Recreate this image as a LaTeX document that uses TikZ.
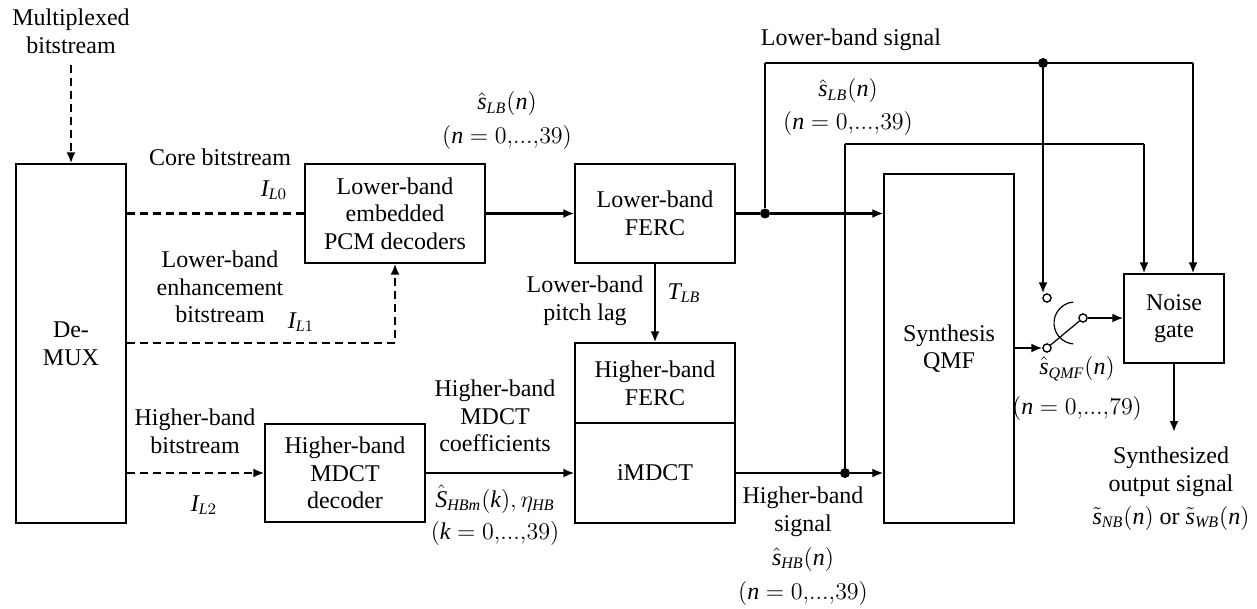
\documentclass[tikz,border=0pt]{standalone}
\usepackage{fontspec}
\setmainfont{Liberation Serif}
\usetikzlibrary{arrows.meta}
\newcommand{\mi}[1]{\mathit{#1}}
\newcommand{\rng}[2]{$(\mi{#1}=0{,}...{,}#2)$}
\begin{document}
\begin{tikzpicture}[x=0.5pt,y=-0.5pt,
  every node/.style={font=\fontsize{12}{13.8}\selectfont},
  box/.style={draw, line width=0.6pt, inner sep=0pt, align=center},
  lbl/.style={inner sep=0pt, align=center},
  conn/.style={line width=1.35pt},
  thinconn/.style={line width=0.8pt},
  arr/.style={conn, -{Latex[length=5.5pt,width=4.5pt]}},
  dashline/.style={line width=1.2pt, dash pattern=on 4pt off 2.5pt},
  dasharr/.style={dashline, -{Latex[length=5.5pt,width=4.5pt]}},
  dot/.style={circle, fill, inner sep=0pt, minimum size=5pt},
  swc/.style={circle, draw, fill=white, inner sep=0pt, minimum size=4pt, line width=0.6pt}]
\useasboundingbox (0,0) rectangle (1257,609);

% boxes
\node[box, minimum width=55pt, minimum height=179.5pt] (demux) at (71,343.5) {De-\\MUX};
\node[box, minimum width=90pt, minimum height=49.5pt] (pcm) at (395,213.5) {Lower-band\\embedded\\PCM decoders};
\node[box, minimum width=80pt, minimum height=49.5pt] (lferc) at (655,213.5) {Lower-band\\FERC};
\node[box, minimum width=80pt, minimum height=49pt] (hmdct) at (345,473) {Higher-band\\MDCT\\decoder};
\node[box, minimum width=80pt, minimum height=40pt] (hferc) at (655,383) {Higher-band\\FERC};
\node[box, minimum width=80pt, minimum height=50pt] (imdct) at (655,473) {iMDCT};
\node[box, minimum width=65pt, minimum height=174.5pt] (qmf) at (949,348.5) {Synthesis\\QMF};
\node[box, minimum width=50pt, minimum height=44.5pt] (noise) at (1174,318.5) {Noise\\gate};

% labels
\node[lbl] (mtxt) at (71,31) {Multiplexed\\bitstream};
\node[lbl] (core) at (220,157) {Core bitstream};
\node[lbl] (il0) at (274,190) {$\mi{I}_{\mi{L}0}$};
\node[lbl] (enh) at (220,287) {Lower-band\\enhancement\\bitstream};
\node[lbl] (il1) at (301,322) {$\mi{I}_{\mi{L}1}$};
\node[lbl] (hbs) at (195,431) {Higher-band\\bitstream};
\node[lbl] (il2) at (204,505) {$\mi{I}_{\mi{L}2}$};
\node[lbl] (slb1) at (507,104) {$\hat{\mi{s}}_{\mi{LB}}(\mi{n})$};
\node[lbl] (n1) at (507,138) {\rng{n}{39}};
\node[lbl] (pitch) at (585,301) {Lower-band\\pitch lag};
\node[lbl] (tlb) at (684,293) {$\mi{T}_{\mi{LB}}$};
\node[lbl] (hcoef) at (495,416) {Higher-band\\MDCT\\coefficients};
\node[lbl] (shbm) at (495,499) {$\hat{\mi{S}}_{\mi{HBm}}(\mi{k}),\eta_{\mi{HB}}$};
\node[lbl] (k1) at (495,533) {\rng{k}{39}};
\node[lbl] (hsig) at (803,512) {Higher-band\\signal};
\node[lbl] (shb) at (803,559) {$\hat{\mi{s}}_{\mi{HB}}(\mi{n})$};
\node[lbl] (n3) at (803,593) {\rng{n}{39}};
\node[lbl] (lsig) at (851,40) {Lower-band signal};
\node[lbl] (slb2) at (848,91) {$\hat{\mi{s}}_{\mi{LB}}(\mi{n})$};
\node[lbl] (n2) at (848,124) {\rng{n}{39}};
\node[lbl] (sqmf) at (1077,369) {$\hat{\mi{s}}_{\mi{QMF}}(\mi{n})$};
\node[lbl] (n4) at (1077,408) {\rng{n}{79}};
\node[lbl] (synth) at (1171,472) {Synthesized\\output signal};
\node[lbl] (sout) at (1171,518) {$\tilde{\mi{s}}_{\mi{NB}}(\mi{n})$ or $\tilde{\mi{s}}_{\mi{WB}}(\mi{n})$};

% coordinates and dots
\coordinate (mstart) at (71,65);
\coordinate (c1) at (395,343);
\node[dot] (d1) at (765,213.5) {};
\coordinate (t1) at (765,63);
\node[dot] (d2) at (1043,63) {};
\coordinate (t2) at (1193,63);
\node[dot] (d3) at (845,473) {};
\coordinate (t3) at (845,144);
\coordinate (t4) at (1144,144);
\node[swc] (s1) at (1047,298) {};
\node[swc] (s2) at (1047,348) {};
\node[swc] (s3) at (1083,318) {};
\coordinate (outend) at (1174,432);

% dashed connectors
\draw[dasharr] (mstart) -- (demux.north);
\draw[dashline] (demux.east |- pcm.west) -- (pcm.west);
\draw[dasharr] (demux.east |- c1) -- (c1) -- (pcm.south);
\draw[dasharr] (demux.east |- hmdct.west) -- (hmdct.west);

% solid connectors
\draw[arr] (pcm.east) -- (lferc.west);
\draw[arr] (lferc.south) -- (hferc.north);
\draw[arr] (hmdct.east) -- (imdct.west);
\draw[conn] (lferc.east) -- (d1);
\draw[arr] (d1) -- (d1 -| qmf.west);
\draw[conn] (d1) -- (t1);
\draw[thinconn] (t1) -- (t2);
\draw[arr] (t2) -- (t2 |- noise.north);
\draw[arr] (d2) -- (d2 |- s1.north);
\draw[conn] (imdct.east) -- (d3);
\draw[arr] (d3) -- (d3 -| qmf.west);
\draw[conn] (d3) -- (t3);
\draw[thinconn] (t3) -- (t4);
\draw[arr] (t4) -- (t4 |- noise.north);
\draw[arr] (qmf.east |- s2) -- (s2.west);
\draw[line width=0.6pt] (s2) -- (s3);
\draw[line width=0.6pt] ([shift={(95:10.5pt)}]1075,323) arc[start angle=95, end angle=265, radius=10.5pt];
\draw[arr] (s3) -- (s3 -| noise.west);
\draw[arr] (noise.south) -- (outend);
\node[swc] at (s1) {};
\node[swc] at (s2) {};
\node[swc] at (s3) {};
\end{tikzpicture}
\end{document}
